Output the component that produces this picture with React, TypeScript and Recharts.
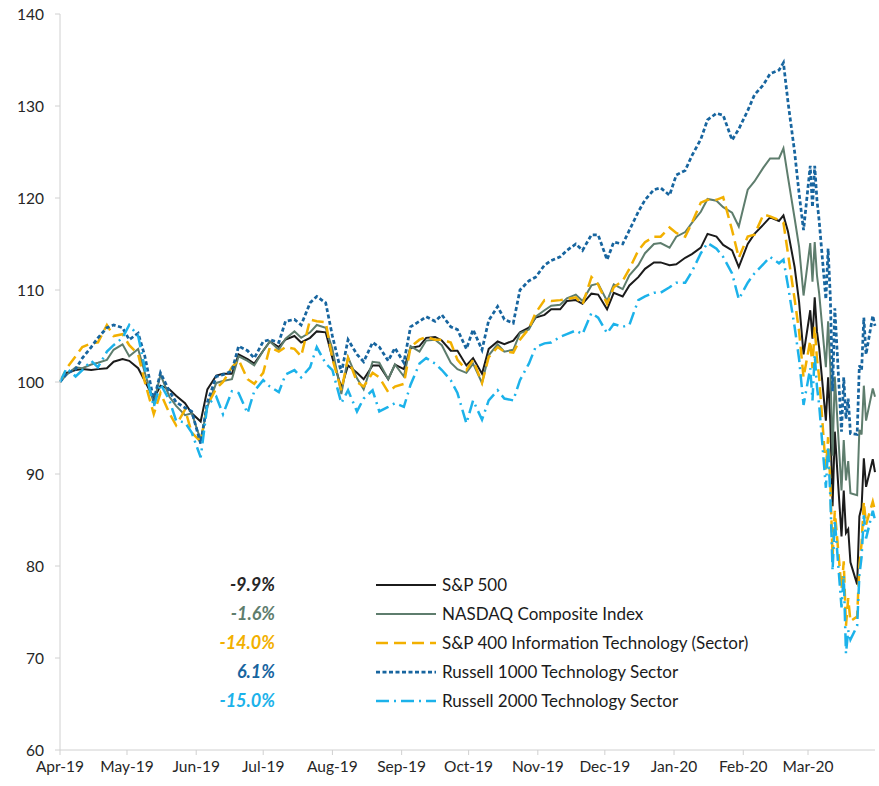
import { LineChart, Line, XAxis, YAxis } from "recharts";

// calendar day offset from 1-Apr-2019
const DAYS = [
  0, 3, 7, 10, 14, 17, 21, 24, 28, 31,
  35, 38, 42, 45, 49, 52, 56, 59, 63, 66,
  70, 73, 77, 80, 84, 87, 91, 94, 98, 101,
  105, 108, 112, 115, 119, 122, 126, 129, 133, 136,
  140, 143, 147, 150, 154, 157, 161, 164, 168, 171,
  175, 178, 182, 185, 189, 192, 196, 199, 203, 206,
  210, 213, 217, 220, 224, 227, 231, 234, 238, 241,
  245, 248, 252, 255, 259, 262, 266, 269, 273, 276,
  280, 283, 287, 290, 294, 297, 301, 304, 308, 311,
  315, 318, 322, 324, 326, 329, 331, 333, 336, 337,
  338, 339, 340, 343, 344, 345, 346, 347, 350, 351,
  352, 353, 354, 357, 358, 359, 360, 361, 364, 365,
];

const SP500 = [
  100.0, 101.0, 101.3, 101.4, 101.3, 101.4, 101.5, 102.2, 102.5, 102.3,
  101.5, 100.1, 98.2, 99.6, 99.2, 98.5, 97.7, 96.6, 95.7, 99.2,
  100.7, 100.9, 100.9, 103.0, 102.5, 102.0, 103.4, 104.4, 103.8, 104.6,
  105.0, 104.3, 104.8, 105.5, 105.4, 102.6, 99.4, 101.8, 101.0, 100.3,
  101.8, 101.8, 100.3, 101.9, 101.4, 103.7, 103.9, 104.8, 104.9, 104.5,
  103.4, 103.4, 101.8, 102.6, 100.9, 103.6, 104.4, 104.1, 104.5, 105.4,
  105.9, 107.0, 107.3, 107.9, 107.9, 108.8, 108.9, 108.5, 109.6, 109.5,
  107.9, 109.7, 109.3, 110.5, 111.4, 112.3, 113.0, 113.0, 112.7, 112.8,
  113.5, 113.9, 114.6, 116.1, 115.8, 114.9, 114.3, 112.5, 115.0, 116.1,
  117.1, 117.9, 117.5, 118.1, 116.4, 112.5, 108.7, 103.0, 107.8, 104.7,
  109.2, 105.5, 103.7, 95.8, 100.5, 95.6, 86.5, 94.6, 83.2, 88.2,
  83.6, 84.0, 80.4, 78.0, 85.4, 86.4, 91.7, 88.6, 91.6, 90.2,
];

const NASDAQ = [
  100.0, 100.8, 101.6, 101.5, 101.9, 102.1, 102.4, 103.5, 104.1, 102.8,
  103.6, 101.0, 97.7, 100.8, 98.4, 97.4, 96.4, 96.6, 93.7, 97.3,
  99.9, 100.1, 100.3, 102.8, 102.3, 101.8, 103.4, 104.4, 103.5, 104.7,
  105.5, 104.8, 105.4, 106.2, 105.9, 103.6, 98.7, 102.7, 100.4, 99.2,
  102.2, 102.1, 100.3, 101.9, 100.6, 103.9, 103.3, 104.5, 104.6, 104.0,
  102.1, 101.4, 101.0, 102.0, 99.9, 102.9, 104.1, 103.3, 103.5, 105.3,
  105.7, 107.1, 107.8, 108.3, 108.4, 109.1, 109.5, 108.8, 110.5, 110.7,
  108.8, 110.6, 110.1, 111.6, 112.7, 114.0, 115.0, 115.1, 114.6, 115.8,
  116.3, 117.3, 118.5, 119.9, 119.7, 119.0, 118.4, 116.9, 120.9, 121.8,
  123.3, 124.3, 124.3, 125.4, 122.3, 117.8, 114.7, 109.4, 115.1, 110.9,
  115.2, 111.6, 109.6, 101.6, 106.6, 101.6, 92.0, 100.6, 88.2, 93.7,
  89.3, 91.4, 87.9, 87.7, 94.8, 94.3, 99.6, 95.8, 99.3, 98.4,
];

const SP400_IT = [
  100.0, 101.5, 102.8, 103.8, 104.2, 104.3, 106.2, 105.0, 105.2, 104.0,
  103.0, 100.0, 96.5, 98.8, 96.6, 95.3, 97.0, 94.5, 93.5, 97.5,
  99.3, 100.0, 101.6, 102.4, 100.3, 99.8, 101.0, 103.8, 103.3, 103.8,
  103.6, 102.8, 106.8, 106.6, 106.5, 102.5, 99.1, 102.6, 100.0, 99.5,
  101.0, 100.5, 98.9, 99.5, 99.8, 103.8, 104.6, 104.9, 104.6, 104.6,
  104.3, 102.4, 101.3, 102.4, 99.9, 102.7, 103.8, 103.3, 103.2, 104.6,
  105.8, 107.5, 108.9, 108.8, 108.9, 109.0, 109.2, 108.4, 111.4, 110.6,
  108.5, 110.3, 111.0, 112.3, 114.3, 115.2, 115.8, 115.8, 116.8, 116.2,
  115.8, 117.3, 119.5, 119.8, 119.8, 120.1, 116.5, 113.5, 115.8, 116.0,
  118.2, 118.0, 117.6, 117.3, 114.0, 109.0, 105.5, 100.5, 104.5, 101.5,
  106.0, 102.5, 100.5, 90.5, 94.0, 89.0, 81.0, 86.0, 77.5, 80.5,
  73.5, 76.5, 74.0, 74.5, 80.0, 82.5, 87.0, 84.5, 87.0, 86.0,
];

const R1000_TECH = [
  100.0, 100.9, 101.4, 102.6, 103.8, 104.8, 105.9, 106.2, 105.9, 104.6,
  105.3, 102.8, 98.0, 101.0, 99.0, 97.8, 97.2, 96.8, 93.3, 97.8,
  100.6, 100.8, 101.2, 103.9, 103.4, 102.6, 104.4, 104.6, 104.3, 106.6,
  106.8, 106.2, 108.6, 109.3, 108.6, 105.0, 101.0, 104.6, 103.0, 102.2,
  104.3, 103.8, 102.3, 103.7, 102.1, 106.0, 106.6, 107.1, 106.6, 107.3,
  106.0, 105.7, 103.6, 105.7, 103.5, 106.7, 108.2, 106.8, 106.4, 110.0,
  111.0, 111.4, 112.7, 113.2, 113.6, 114.3, 115.0, 114.3, 116.0, 116.0,
  113.3, 115.2, 115.0, 116.5, 118.5, 119.8, 120.9, 121.1, 120.3, 122.5,
  123.0, 124.6, 126.4, 128.5, 129.2, 129.0, 126.3, 127.5, 129.5, 131.2,
  132.3, 133.5, 133.9, 134.7, 130.5, 125.0, 120.5, 116.5, 123.5, 119.0,
  123.5, 119.8, 117.5, 109.0, 114.5, 109.2, 99.0, 108.0, 94.6, 100.5,
  96.0, 98.2, 94.4, 94.3, 101.8, 101.3, 107.0, 103.0, 107.2, 106.1,
];

const R2000_TECH = [
  100.0, 101.5, 100.6, 101.3, 102.3, 101.6, 103.3, 104.0, 104.8, 106.2,
  105.0, 101.5, 97.3, 99.8, 98.0, 95.8, 95.6, 94.5, 91.8, 97.5,
  98.4, 96.5, 99.0, 98.8, 96.6, 99.0, 100.2, 99.5, 98.9, 100.8,
  101.3, 100.5, 101.6, 103.8, 102.0, 101.3, 97.7, 99.1, 96.8, 98.2,
  99.1, 96.8, 97.3, 97.7, 97.3, 99.7, 102.0, 102.6, 102.0, 101.3,
  100.2, 98.8, 95.5, 98.0, 95.9, 98.0, 99.1, 98.2, 98.0, 100.2,
  102.0, 103.8, 104.2, 104.3, 104.9, 105.2, 105.6, 105.2, 107.5, 107.0,
  105.3, 106.3, 106.0, 106.2, 108.9, 109.3, 109.7, 109.7, 110.3, 110.8,
  110.8, 112.0, 114.0, 115.1, 114.5, 113.6, 111.8, 109.0, 110.8, 111.8,
  112.8, 113.6, 112.9, 113.3, 110.5, 106.0, 102.5, 97.5, 101.5, 98.0,
  103.0, 99.5, 97.5, 88.5, 93.0, 87.5, 79.5, 85.0, 75.5, 79.0,
  70.5, 73.0, 72.0, 73.5, 79.0, 81.0, 85.5, 83.0, 86.0, 85.0,
];

const MONTH_TICKS = [0, 30, 61, 91, 122, 153, 183, 214, 244, 275, 306, 335];
const MONTH_LABELS = [
  "Apr-19", "May-19", "Jun-19", "Jul-19", "Aug-19", "Sep-19",
  "Oct-19", "Nov-19", "Dec-19", "Jan-20", "Feb-20", "Mar-20",
];
const Y_TICKS = [60, 70, 80, 90, 100, 110, 120, 130, 140];

const SERIES = [
  { key: "sp500", name: "S&P 500", ret: "-9.9%", color: "#1b1b1b", retColor: "#262626", width: 2, dash: undefined },
  { key: "nasdaq", name: "NASDAQ Composite Index", ret: "-1.6%", color: "#5e7d6d", retColor: "#5e7d6d", width: 2, dash: undefined },
  { key: "sp400", name: "S&P 400 Information Technology (Sector)", ret: "-14.0%", color: "#f2b000", retColor: "#f2b000", width: 2.5, dash: "12 6" },
  { key: "r1000", name: "Russell 1000 Technology Sector", ret: "6.1%", color: "#17659f", retColor: "#17659f", width: 2.75, dash: "4 2.5" },
  { key: "r2000", name: "Russell 2000 Technology Sector", ret: "-15.0%", color: "#1cb2ea", retColor: "#1cb2ea", width: 2.5, dash: "13 5 2 5" },
];

const FONT = "Lato, 'Liberation Sans', sans-serif";
const AXIS_GREY = "#d0d0d0";

export default function App() {
  const data = DAYS.map((day, i) => ({
    day,
    sp500: SP500[i],
    nasdaq: NASDAQ[i],
    sp400: SP400_IT[i],
    r1000: R1000_TECH[i],
    r2000: R2000_TECH[i],
  }));

  return (
    <div style={{ position: "absolute", left: 0, top: 0, width: 879, height: 786, background: "#fff", fontFamily: FONT }}>
      <LineChart width={879} height={786} data={data} margin={{ top: 14, right: 4, bottom: 6, left: 0 }}>
        <XAxis
          dataKey="day"
          type="number"
          domain={[0, 365]}
          ticks={MONTH_TICKS}
          tickFormatter={(v: number) => MONTH_LABELS[MONTH_TICKS.indexOf(v)] ?? ""}
          stroke={AXIS_GREY}
          tickSize={5}
          tickMargin={6}
          height={30}
          tick={{ fill: "#262626", fontSize: 15.5, fontFamily: FONT }}
        />
        <YAxis
          domain={[60, 140]}
          ticks={Y_TICKS}
          width={60}
          stroke={AXIS_GREY}
          tickSize={5}
          tickMargin={11}
          tick={{ fill: "#262626", fontSize: 15.5, fontFamily: FONT }}
        />
        {SERIES.map((s) => (
          <Line
            key={s.key}
            type="linear"
            dataKey={s.key}
            stroke={s.color}
            strokeWidth={s.width}
            strokeDasharray={s.dash}
            dot={false}
            isAnimationActive={false}
          />
        ))}
      </LineChart>

      {/* Legend with period returns */}
      <div style={{ position: "absolute", left: 0, top: 0 }}>
        {SERIES.map((s, i) => (
          <div key={s.key} style={{ position: "absolute", top: 573 + i * 29, left: 0, height: 24, width: 879 }}>
            <span
              style={{
                position: "absolute",
                right: 879 - 275,
                top: 0,
                fontWeight: 700,
                fontStyle: "italic",
                fontSize: 18,
                color: s.retColor,
                whiteSpace: "nowrap",
              }}
            >
              {s.ret}
            </span>
            <svg style={{ position: "absolute", left: 376, top: 7 }} width={60} height={10}>
              <line x1={0} y1={5} x2={60} y2={5} stroke={s.color} strokeWidth={s.width} strokeDasharray={s.dash} />
            </svg>
            <span style={{ position: "absolute", left: 442, top: 1, fontSize: 17, color: "#1b1b1b", whiteSpace: "nowrap" }}>
              {s.name}
            </span>
          </div>
        ))}
      </div>
    </div>
  );
}
